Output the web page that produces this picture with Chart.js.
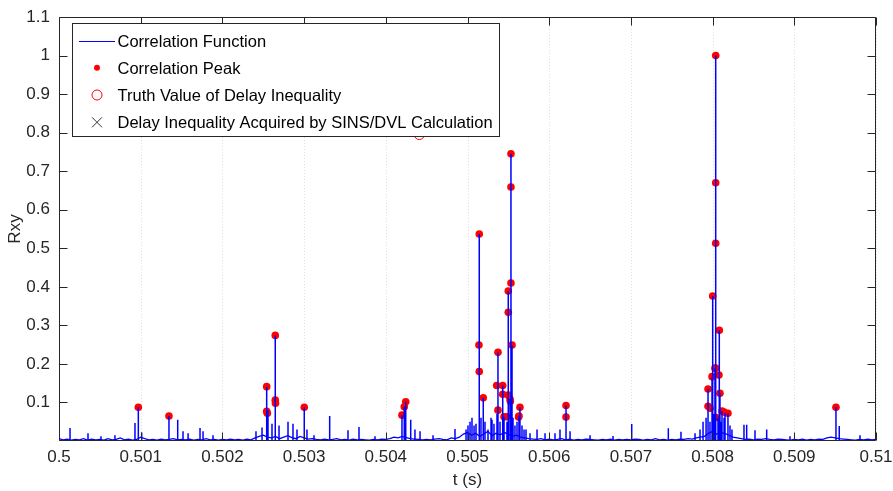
<!DOCTYPE html>
<html lang="en">
<head>
  <meta charset="UTF-8">
  <title>Rxy</title>
  <script src="https://cdn.jsdelivr.net/npm/chart.js"></script>
  <style>
    body { margin: 0; background: #fff; }
    #wrap { width: 893px; height: 491px; }
  </style>
</head>
<body>
<div id="wrap"><canvas id="myChart" width="893" height="491"></canvas></div>

<script>
// noise floor of the correlation function, one value every 0.05 ms from 0.5 s
var floorStart = 0.5
var floorStep = 0.00005
var floorRxy = [
  0.006,0.003,0.005,0.002,0.004,0.003,0.006,0.002,0.005,0.003,
  0.004,0.002,0.006,0.003,0.004,0.008,0.003,0.005,0.002,0.004,
  0.010,0.006,0.003,0.004,0.002,0.005,0.003,0.004,0.006,0.003,
  0.004,0.003,0.005,0.002,0.004,0.003,0.006,0.003,0.004,0.002,
  0.004,0.003,0.005,0.003,0.004,0.002,0.005,0.003,0.008,0.012,
  0.015,0.010,0.008,0.012,0.006,0.010,0.014,0.009,0.006,0.012,
  0.008,0.005,0.006,0.004,0.003,0.005,0.003,0.004,0.006,0.003,
  0.004,0.002,0.005,0.003,0.004,0.003,0.002,0.004,0.003,0.005,
  0.004,0.006,0.010,0.008,0.012,0.009,0.006,0.005,0.004,0.003,
  0.004,0.003,0.005,0.006,0.004,0.003,0.008,0.006,0.010,0.018,
  0.022,0.015,0.020,0.012,0.018,0.025,0.014,0.020,0.016,0.022,
  0.018,0.012,0.015,0.010,0.008,0.006,0.005,0.004,0.006,0.003,
  0.005,0.003,0.004,0.006,0.003,0.005,0.002,0.004,0.003,0.005,
  0.004,0.003,0.002,0.004,0.003,0.005,0.002,0.004,0.003,0.004,
  0.003,0.005,0.004,0.002,0.004,0.003,0.006,0.003,0.004,0.002,
  0.004,0.003,0.005,0.004,0.006,0.005,0.008,0.010,0.012,0.020,
  0.025,0.018,0.022,0.020,0.015,0.010,0.008,0.006,0.004,0.005,
  0.003,0.005,0.004,0.006,0.004,0.003,0.005,0.004,0.003,0.002,
  0.004,0.003,0.005,0.002,0.004,0.003,0.005,0.004,0.008,0.010,
  0.008,0.006,0.005,0.004,0.003,0.002,0.004,0.003,0.005,0.003,
  0.004
]

// sharp spikes of the correlation function
var spikeT = [
  0.500135,0.500355,0.500514,0.500685,0.500930,0.500971,0.501012,0.501346,0.501453,0.501518,
  0.501580,0.501726,0.501763,0.501885,0.502411,0.502485,0.502542,0.502558,0.502607,0.502647,
  0.502693,0.502803,0.502864,0.502913,0.503002,0.503035,0.503121,0.503313,0.503537,0.503672,
  0.503868,0.504198,0.504226,0.504244,0.504305,0.504357,0.504419,0.504578,0.504847,0.504982,
  0.505006,0.505031,0.505055,0.505080,0.505104,0.505144,0.505165,0.505193,0.505214,0.505251,
  0.505288,0.505300,0.505324,0.505361,0.505373,0.505398,0.505431,0.505447,0.505483,0.505499,
  0.505520,0.505532,0.505545,0.505557,0.505581,0.505606,0.505630,0.505642,0.505667,0.505692,
  0.505716,0.505765,0.505851,0.505949,0.506071,0.506132,0.506206,0.506255,0.506500,0.506781,
  0.507010,0.507458,0.507613,0.507785,0.507846,0.507883,0.507920,0.507944,0.507968,0.507993,
  0.508001,0.508017,0.508029,0.508038,0.508066,0.508082,0.508090,0.508103,0.508115,0.508140,
  0.508152,0.508188,0.508213,0.508237,0.508384,0.508417,0.508519,0.508662,0.508947,0.509510,
  0.509550,0.509804
]
var spikeRxy = [
  0.034,0.020,0.012,0.015,0.047,0.0875,0.022,0.065,0.055,0.025,
  0.020,0.034,0.025,0.015,0.025,0.035,0.141,0.080,0.045,0.274,
  0.040,0.050,0.045,0.030,0.0875,0.030,0.015,0.065,0.028,0.036,
  0.012,0.067,0.089,0.102,0.055,0.030,0.025,0.015,0.031,0.030,
  0.040,0.050,0.060,0.040,0.045,0.537,0.060,0.112,0.050,0.030,
  0.060,0.055,0.045,0.070,0.230,0.050,0.144,0.063,0.050,0.389,
  0.109,0.745,0.249,0.060,0.040,0.050,0.065,0.0875,0.040,0.030,
  0.030,0.020,0.030,0.020,0.020,0.030,0.092,0.025,0.015,0.013,
  0.044,0.033,0.024,0.020,0.030,0.050,0.060,0.135,0.050,0.167,
  0.376,0.070,0.189,1.000,0.060,0.287,0.124,0.050,0.078,0.060,
  0.072,0.072,0.040,0.030,0.042,0.042,0.028,0.030,0.012,0.0875,
  0.039,0.015
]

// correlation peaks (red dots)
var peakT = [
  0.500971,0.501346,0.502542,0.502542,0.502550,0.502647,0.502647,0.502650,0.503002,
  0.504198,0.504226,0.504244,0.505144,0.505140,0.505144,0.505193,
  0.505373,0.505357,0.505431,0.505373,0.505431,0.505447,0.505480,
  0.505499,0.505499,0.505499,0.505520,0.505525,0.505532,0.505532,0.505532,0.505545,
  0.505630,0.505642,0.505625,0.506206,0.506206,
  0.507944,0.507944,0.507970,0.507993,0.508001,0.508029,0.508036,
  0.508038,0.508038,0.508038,0.508042,0.508082,0.508078,0.508090,
  0.508115,0.508140,0.508188,0.509510
]
var peakRxy = [
  0.0875,0.065,0.141,0.077,0.072,0.274,0.106,0.098,0.0875,
  0.067,0.089,0.102,0.537,0.249,0.180,0.112,
  0.230,0.144,0.144,0.080,0.121,0.063,0.063,
  0.389,0.334,0.119,0.109,0.103,0.745,0.659,0.410,0.249,
  0.065,0.0875,0.062,0.092,0.062,
  0.135,0.090,0.085,0.167,0.376,0.189,0.189,
  1.000,0.670,0.513,0.061,0.287,0.171,0.124,
  0.078,0.075,0.072,0.0875
]

// truth value of the delay inequality and the SINS/DVL estimate
var truthT = [0.50441]
var truthRxy = [0.795]
var sinsT = [0.50442]
var sinsRxy = [0.87]

var xTicks = [0.5,0.501,0.502,0.503,0.504,0.505,0.506,0.507,0.508,0.509,0.51]
var yTicks = [0.1,0.2,0.3,0.4,0.5,0.6,0.7,0.8,0.9,1,1.1]

var legendLabels = [
  'Correlation Function',
  'Correlation Peak',
  'Truth Value of Delay Inequality',
  'Delay Inequality Acquired by SINS/DVL Calculation'
]

var FONT = '"Liberation Sans", Arial, sans-serif'
var AXIS_COLOR = '#262626'

// build datasets
var floorData = floorRxy.map(function (v, i) {
  return { x: floorStart + i * floorStep, y: v }
})

var stemData = []
for (var i = 0; i < spikeT.length; i++) {
  stemData.push({ x: spikeT[i], y: 0 })
  stemData.push({ x: spikeT[i], y: spikeRxy[i] })
  stemData.push({ x: spikeT[i], y: null })
}

var peakData = peakT.map(function (t, i) { return { x: t, y: peakRxy[i] } })
var truthData = truthT.map(function (t, i) { return { x: t, y: truthRxy[i] } })
var sinsData = sinsT.map(function (t, i) { return { x: t, y: sinsRxy[i] } })

// MATLAB style box, inside ticks and dotted x grid
var axesBox = {
  id: 'axesBox',
  beforeDatasetsDraw: function (chart) {
    var ctx = chart.ctx, a = chart.chartArea, x = chart.scales.x
    ctx.save()
    ctx.strokeStyle = 'rgba(0,0,0,0.12)'
    ctx.lineWidth = 1
    ctx.setLineDash([1, 2])
    xTicks.forEach(function (v) {
      var px = Math.round(x.getPixelForValue(v)) + 0.5
      ctx.beginPath()
      ctx.moveTo(px, a.top)
      ctx.lineTo(px, a.bottom)
      ctx.stroke()
    })
    ctx.restore()
  },
  afterDatasetsDraw: function (chart) {
    var ctx = chart.ctx, a = chart.chartArea
    var x = chart.scales.x, y = chart.scales.y
    var L = Math.round(a.left) + 0.5, R = Math.round(a.right) - 0.5
    var T = Math.round(a.top) + 0.5, B = Math.round(a.bottom) - 0.5
    var len = 8
    ctx.save()
    ctx.strokeStyle = AXIS_COLOR
    ctx.lineWidth = 1
    ctx.beginPath()
    ctx.rect(L, T, R - L, B - T)
    xTicks.forEach(function (v) {
      var px = Math.round(x.getPixelForValue(v)) + 0.5
      ctx.moveTo(px, B); ctx.lineTo(px, B - len)
      ctx.moveTo(px, T); ctx.lineTo(px, T + len)
    })
    yTicks.forEach(function (v) {
      var py = Math.round(y.getPixelForValue(v)) + 0.5
      ctx.moveTo(L, py); ctx.lineTo(L + len, py)
      ctx.moveTo(R, py); ctx.lineTo(R - len, py)
    })
    ctx.stroke()
    ctx.restore()
  },
  afterDraw: function (chart) {
    var ctx = chart.ctx, a = chart.chartArea
    var bx = Math.round(a.left) + 13.5, by = Math.round(a.top) + 6.5
    var bw = 427, bh = 113
    ctx.save()
    ctx.fillStyle = '#fff'
    ctx.fillRect(bx, by, bw, bh)
    ctx.strokeStyle = AXIS_COLOR
    ctx.lineWidth = 1
    ctx.strokeRect(bx, by, bw, bh)

    var rows = [by + 17.2, by + 44.2, by + 71.5, by + 98.8]
    var mx = bx + 24.5

    // line sample
    ctx.strokeStyle = '#0000ff'
    ctx.beginPath()
    ctx.moveTo(bx + 6.5, Math.round(rows[0]) + 0.5)
    ctx.lineTo(bx + 42.5, Math.round(rows[0]) + 0.5)
    ctx.stroke()

    // red dot
    ctx.fillStyle = '#ff0000'
    ctx.beginPath()
    ctx.arc(mx, rows[1], 3, 0, Math.PI * 2)
    ctx.fill()

    // open circle
    ctx.strokeStyle = '#ff0000'
    ctx.beginPath()
    ctx.arc(mx, rows[2], 5, 0, Math.PI * 2)
    ctx.stroke()

    // cross
    ctx.strokeStyle = '#333'
    ctx.beginPath()
    ctx.moveTo(mx - 5, rows[3] - 5); ctx.lineTo(mx + 5, rows[3] + 5)
    ctx.moveTo(mx + 5, rows[3] - 5); ctx.lineTo(mx - 5, rows[3] + 5)
    ctx.stroke()

    ctx.fillStyle = '#000'
    ctx.font = '16.5px ' + FONT
    ctx.textBaseline = 'alphabetic'
    ctx.textAlign = 'left'
    legendLabels.forEach(function (txt, k) {
      ctx.fillText(txt, bx + 45, rows[k] + 6)
    })
    ctx.restore()
  }
}

function fmt(v, d) {
  return String(Number(v.toFixed(d)))
}

var config = {
  type: 'scatter',
  data: {
    datasets: [
      {
        label: 'floor',
        data: floorData,
        showLine: true,
        borderColor: '#0000ff',
        borderWidth: 1.3,
        pointRadius: 0,
        pointHoverRadius: 0
      },
      {
        label: 'spikes',
        data: stemData,
        showLine: true,
        spanGaps: false,
        borderColor: '#0000ff',
        borderWidth: 1.5,
        pointRadius: 0,
        pointHoverRadius: 0
      },
      {
        label: 'peaks',
        data: peakData,
        pointStyle: 'circle',
        pointRadius: 3.8,
        backgroundColor: '#ff0000',
        borderColor: '#ff0000',
        borderWidth: 0
      },
      {
        label: 'truth',
        data: truthData,
        pointStyle: 'circle',
        pointRadius: 5,
        backgroundColor: 'rgba(0,0,0,0)',
        borderColor: '#ff0000',
        borderWidth: 1
      },
      {
        label: 'sins',
        data: sinsData,
        pointStyle: 'crossRot',
        pointRadius: 5,
        borderColor: '#333',
        borderWidth: 1
      }
    ]
  },
  options: {
    responsive: false,
    animation: false,
    devicePixelRatio: 1,
    layout: { padding: { top: 17, right: 17, left: 0, bottom: 0 } },
    plugins: {
      legend: { display: false },
      tooltip: { enabled: false }
    },
    scales: {
      x: {
        type: 'linear',
        min: 0.5,
        max: 0.51,
        grid: { display: false, drawTicks: false },
        border: { display: false },
        afterBuildTicks: function (s) {
          s.ticks = xTicks.map(function (v) { return { value: v } })
        },
        afterFit: function (s) {
          s.height = 50
          s.paddingLeft = 0
          s.paddingRight = 0
        },
        ticks: {
          autoSkip: false,
          maxRotation: 0,
          padding: 6,
          color: AXIS_COLOR,
          font: { family: FONT, size: 17 },
          callback: function (v) { return fmt(v, 3) }
        },
        title: {
          display: true,
          text: 't (s)',
          color: AXIS_COLOR,
          padding: { top: 0, bottom: 0 },
          font: { family: FONT, size: 17 }
        }
      },
      y: {
        type: 'linear',
        min: 0,
        max: 1.1,
        grid: { display: false, drawTicks: false },
        border: { display: false },
        afterBuildTicks: function (s) {
          s.ticks = yTicks.map(function (v) { return { value: v } })
        },
        afterFit: function (s) {
          s.width = 59
          s.paddingTop = 0
          s.paddingBottom = 0
        },
        ticks: {
          padding: 9,
          color: AXIS_COLOR,
          font: { family: FONT, size: 17 },
          callback: function (v) { return fmt(v, 1) }
        },
        title: {
          display: true,
          text: 'Rxy',
          color: AXIS_COLOR,
          padding: { top: 5, bottom: 0 },
          font: { family: FONT, size: 17 }
        }
      }
    }
  },
  plugins: [axesBox]
}

var myChart = new Chart(document.getElementById('myChart'), config)
</script>
</body>
</html>
